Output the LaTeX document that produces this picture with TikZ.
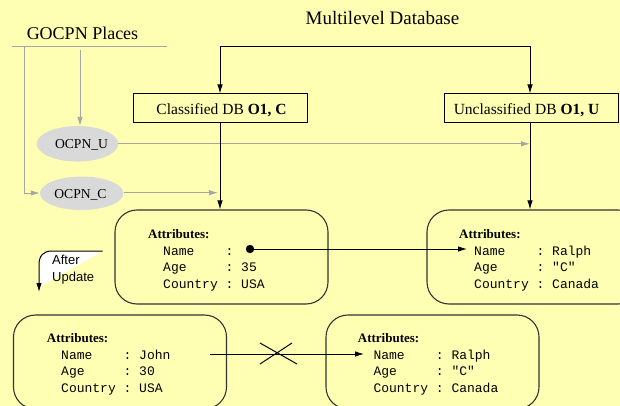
\documentclass[tikz,border=0pt]{standalone}
\usepackage{fontspec}
\setmainfont{Liberation Serif}
\setmonofont{Liberation Mono}
\newfontfamily\arialf{Liberation Sans}
\usetikzlibrary{arrows.meta,shapes.geometric}

\definecolor{paper}{RGB}{255,255,179}
\definecolor{placegray}{RGB}{217,217,217}
\definecolor{linkgray}{RGB}{166,166,166}

\tikzset{
  txt/.style={inner sep=0pt, anchor=base west},
  ctxt/.style={inner sep=0pt, anchor=base},
  mono/.style={txt, font=\fontsize{13}{15}\ttfamily},
  attrhead/.style={txt, font=\fontsize{13}{15}\selectfont\bfseries},
  dbbox/.style={draw=black, line width=1pt, rectangle, minimum width=174pt, minimum height=29pt, inner sep=0pt},
  attrbox/.style={draw=black!80, line width=1.1pt, rectangle, rounded corners=22pt, minimum width=213pt, minimum height=94pt, inner sep=0pt},
  place/.style={ellipse, fill=placegray, draw=none, inner sep=0pt},
  blk/.style={draw=black, line width=0.9pt},
  gry/.style={draw=linkgray, line width=0.9pt},
  tipb/.style={-{Latex[length=9pt,width=5.5pt]}},
  tipg/.style={-{Latex[length=9pt,width=5.5pt,fill=linkgray]}},
}

\begin{document}
\begin{tikzpicture}[x=1pt, y=-1pt]
  % canvas
  \fill[paper] (0,0) rectangle (620,406);
  \useasboundingbox (0,0) rectangle (620,406);
  \clip (0,0) rectangle (620,406);

  % titles
  \node[ctxt, font=\fontsize{19}{22}\selectfont] (title) at (382.5,25) {Multilevel Database};
  \node[ctxt, font=\fontsize{18}{21}\selectfont] (gocpn) at (82.5,40) {GOCPN Places};

  % database boxes
  \node[dbbox] (cls) at (220,108.5) {};
  \node[ctxt, font=\fontsize{15.5}{18}\selectfont] (clstxt) at (221.5,115) {Classified DB \textbf{O1, C}};
  \node[dbbox] (uncls) at (531.5,108.5) {};
  \node[ctxt, font=\fontsize{15.5}{18}\selectfont] (uncltxt) at (526.5,115) {Unclassified DB \textbf{O1, U}};

  % GOCPN places
  \node[place, minimum width=81.5pt, minimum height=35.5pt] (ocpnu) at (77.5,143.8) {};
  \node[ctxt, font=\fontsize{13.6}{16}\selectfont] (ocpnutxt) at (81.5,148.5) {OCPN\_U};
  \node[place, minimum width=83.5pt, minimum height=33.5pt] (ocpnc) at (81.7,193.3) {};
  \node[ctxt, font=\fontsize{13.6}{16}\selectfont] (ocpnctxt) at (80.5,198) {OCPN\_C};

  % attribute records
  \node[attrbox] (a1) at (221.5,257) {};
  \node[attrbox] (a2) at (533.5,257) {};
  \node[attrbox] (b1) at (120,362) {};
  \node[attrbox] (b2) at (432.5,362) {};

  % record contents
  \node[attrhead] (a1h) at (148,238) {Attributes:};
  \node[mono] (a1n) at (163,255) {Name~~~~:};
  \node[mono] (a1a) at (163,271.5) {Age~~~~~:~35};
  \node[mono] (a1c) at (163,288) {Country~:~USA};

  \node[attrhead] (a2h) at (459,238) {Attributes:};
  \node[mono] (a2n) at (474,255) {Name~~~~:~Ralph};
  \node[mono] (a2a) at (474,271.5) {Age~~~~~:~"C"};
  \node[mono] (a2c) at (474,288) {Country~:~Canada};

  \node[attrhead] (b1h) at (46.7,342) {Attributes:};
  \node[mono] (b1n) at (61,359) {Name~~~~:~John};
  \node[mono] (b1a) at (61,375.5) {Age~~~~~:~30};
  \node[mono] (b1c) at (61,392) {Country~:~USA};

  \node[attrhead] (b2h) at (357.7,342) {Attributes:};
  \node[mono] (b2n) at (373.3,359) {Name~~~~:~Ralph};
  \node[mono] (b2a) at (373.3,375.5) {Age~~~~~:~"C"};
  \node[mono] (b2c) at (373.3,392) {Country~:~Canada};

  % gray links from the GOCPN places
  \coordinate (gl) at (12,46);
  \coordinate (gr) at (167,46);
  \coordinate (gdrop) at (24,46);
  \coordinate (gbend) at (24,193);
  \coordinate (gtop) at (80,50);
  \coordinate (uend) at (530,143.8);
  \coordinate (cend) at (218,192.7);
  \draw[gry] (gl) -- (gr);
  \draw[gry, tipg] (gdrop) -- (gbend) -- (ocpnc.west |- gbend);
  \draw[gry, tipg] (gtop) -- (gtop |- ocpnu.north);
  \draw[gry, tipg] (ocpnu.east) -- (uend);
  \draw[gry, tipg] (ocpnc.east |- cend) -- (cend);

  % multilevel database links
  \coordinate (tl) at (220,46);
  \coordinate (tr) at (530,46);
  \draw[blk, {Latex[length=9pt,width=5.5pt]}-{Latex[length=9pt,width=5.5pt]}]
    (cls.north) -- (tl) -- (tr) -- (tr |- uncls.north);
  \draw[blk, tipb] (cls.south) -- (cls.south |- a1.north);
  \draw[blk, tipb] (tr |- uncls.south) -- (tr |- a2.north);

  % reference from the classified name to the unclassified record
  \coordinate (dot) at (250,249);
  \coordinate (a2in) at (467,249);
  \fill (dot) circle (4.2pt);
  \draw[blk, tipb] (dot) -- (a2in);

  % broken reference after the update
  \coordinate (b1out) at (210,354);
  \coordinate (b2in) at (364,354);
  \draw[blk, tipb] (b1out) -- (b2in);
  \coordinate (xa) at (260,343);
  \coordinate (xb) at (297,364);
  \coordinate (xc) at (260,364);
  \coordinate (xd) at (292,343);
  \draw[line width=1pt] (xa) -- (xb) (xc) -- (xd);

  % "After Update" turn arrow
  \coordinate (uA) at (102.7,251);
  \coordinate (uB) at (52,251);
  \coordinate (uC) at (39,265);
  \coordinate (uD) at (39,287);
  \coordinate (uE) at (39,292);
  \fill[white] (uA) -- (uB) .. controls (43,251) and (39,256) .. (uC) -- (uD) -- cycle;
  \draw[line width=1pt, tipb] (uA) -- (uB) .. controls (43,251) and (39,256) .. (uC) -- (uE);
  \node[txt, font=\fontsize{13}{15}\arialf] (after) at (52,264) {After};
  \node[txt, font=\fontsize{13}{15}\arialf] (update) at (52,281) {Update};
\end{tikzpicture}
\end{document}
